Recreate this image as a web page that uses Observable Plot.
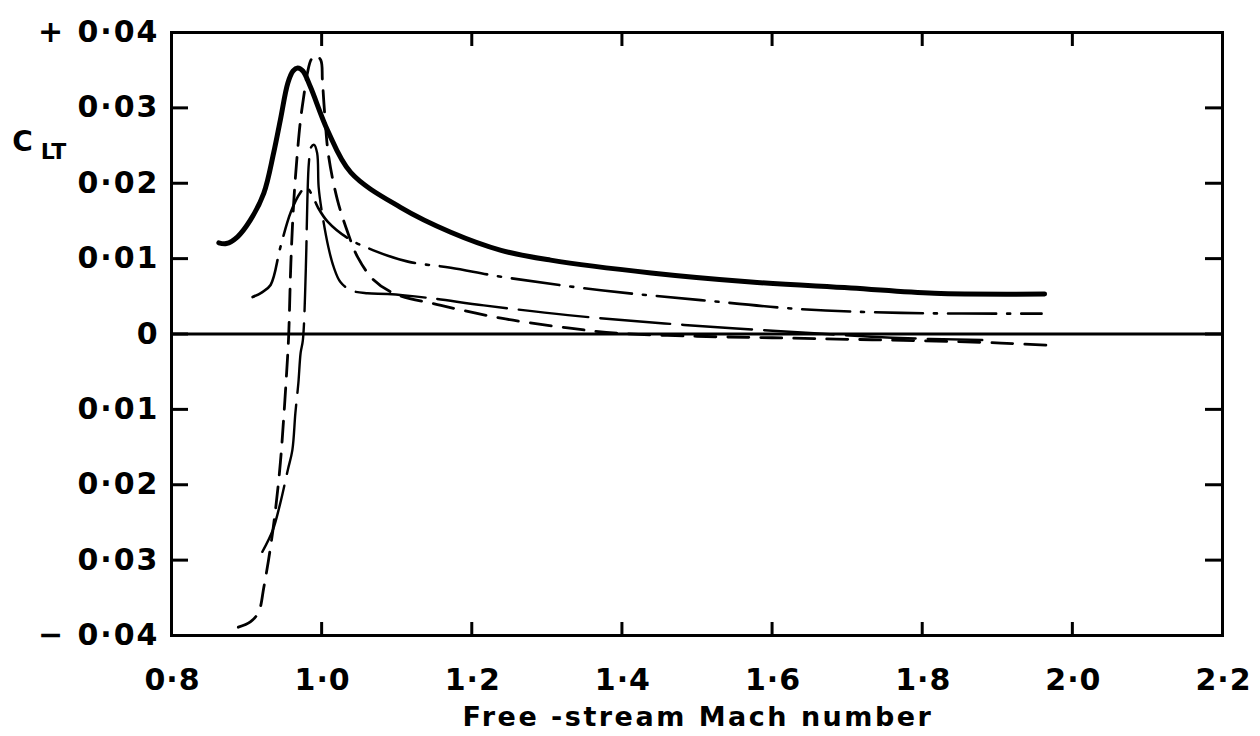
<!DOCTYPE html>
<html>
<head>
<meta charset="utf-8">
<script src="https://cdn.jsdelivr.net/npm/d3@7"></script>
<script src="https://cdn.jsdelivr.net/npm/@observablehq/plot@0.6"></script>
<style>
  html, body { margin: 0; padding: 0; background: #fff; }
  #chart svg { display: block; }
  #chart svg g.ylab text { letter-spacing: 2px; }
  #chart svg g.xlab text { letter-spacing: 1px; }
  #chart svg g.xtitle text { letter-spacing: 2.5px; }
</style>
</head>
<body>
<div id="chart"></div>
<script>
// ---- Axis ticks and labels ----
const xTicks = [0.8, 1.0, 1.2, 1.4, 1.6, 1.8, 2.0, 2.2];
const xTickLabels = ["0·8", "1·0", "1·2", "1·4", "1·6", "1·8", "2·0", "2·2"];
const yTicks = [0.04, 0.03, 0.02, 0.01, 0, -0.01, -0.02, -0.03, -0.04];
const yTickLabels = ["+ 0·04", "0·03", "0·02", "0·01", "0", "0·01", "0·02", "0·03", "− 0·04"];
const xTitle = "Free -stream Mach number";
const yTitleMain = "C";
const yTitleSub = "LT";

// ---- Series (Mach number, C_LT) ----
// A: thick solid
const machA = [0.863, 0.873, 0.888, 0.905, 0.923, 0.936, 0.945, 0.955, 0.962, 0.968, 0.975, 0.985, 1.008, 1.039, 1.105, 1.172, 1.239, 1.305, 1.439, 1.572, 1.705, 1.816, 1.963];
const clA   = [0.0121, 0.0120, 0.0129, 0.0151, 0.0187, 0.0240, 0.0284, 0.0333, 0.0349, 0.0353, 0.0349, 0.0328, 0.0270, 0.0214, 0.0168, 0.0135, 0.0111, 0.0098, 0.0081, 0.0069, 0.0061, 0.0054, 0.0053];

// B: chain (dash-dot)
const machB = [0.908, 0.920, 0.932, 0.945, 0.959, 0.972, 0.979, 0.987, 0.995, 1.008, 1.035, 1.069, 1.115, 1.172, 1.239, 1.372, 1.505, 1.639, 1.772, 1.959];
const clB   = [0.0049, 0.0055, 0.0065, 0.0115, 0.0162, 0.0188, 0.0195, 0.0185, 0.0168, 0.0149, 0.0127, 0.0111, 0.0096, 0.0088, 0.0076, 0.0058, 0.0045, 0.0033, 0.0028, 0.0027];

// C: short dashes
const machC = [0.889, 0.905, 0.916, 0.923, 0.932, 0.939, 0.945, 0.949, 0.953, 0.956, 0.959, 0.963, 0.968, 0.972, 0.976, 0.981, 0.986, 0.992, 0.999, 1.001, 1.004, 1.009, 1.021, 1.035, 1.048, 1.069, 1.096, 1.159, 1.239, 1.328, 1.395, 1.500, 1.600, 1.700, 1.800, 1.905, 1.968];
const clC   = [-0.0389, -0.0382, -0.0369, -0.0336, -0.0282, -0.0229, -0.0171, -0.0118, -0.0057, -0.0004, 0.0094, 0.0178, 0.0244, 0.0285, 0.0314, 0.0346, 0.0364, 0.0370, 0.0363, 0.0337, 0.0293, 0.0238, 0.0178, 0.0134, 0.0102, 0.0072, 0.0054, 0.0038, 0.0021, 0.0008, 0.0001, -0.0003, -0.0005, -0.0007, -0.0009, -0.0012, -0.0015];

// D: long dashes, thin
const machD = [0.921, 0.935, 0.945, 0.955, 0.961, 0.965, 0.969, 0.972, 0.975, 0.979, 0.981, 0.983, 0.986, 0.990, 0.994, 0.996, 1.000, 1.009, 1.016, 1.025, 1.039, 1.061, 1.088, 1.141, 1.216, 1.328, 1.483, 1.656, 1.760, 1.880];
const clD   = [-0.0289, -0.0260, -0.0224, -0.0180, -0.0154, -0.0105, -0.0065, -0.0025, -0.0008, 0.0089, 0.0178, 0.0227, 0.0248, 0.0251, 0.0240, 0.0195, 0.0164, 0.0115, 0.0089, 0.0069, 0.0058, 0.0054, 0.0053, 0.0048, 0.0038, 0.0025, 0.0012, 0.0001, -0.0005, -0.0008];

const toRows = (m, c) => m.map((x, i) => ({mach: x, cl: c[i]}));
const rowsA = toRows(machA, clA);
const rowsB = toRows(machB, clB);
const rowsC = toRows(machC, clC);
const rowsD = toRows(machD, clD);

// ---- Layout ----
const W = 1260, H = 736;
const mL = 171, mR = 38, mT = 32, mB = 101;
const fw = W - mL - mR, fh = H - mT - mB;
const font = "DejaVu Sans, Liberation Sans, sans-serif";

const chart = Plot.plot({
  width: W,
  height: H,
  marginLeft: mL, marginRight: mR, marginTop: mT, marginBottom: mB,
  x: {domain: [0.8, 2.2], axis: null},
  y: {domain: [-0.04, 0.04], axis: null},
  style: {fontFamily: font, color: "#000", background: "#fff", overflow: "visible"},
  marks: [
    Plot.frame({stroke: "#000", strokeWidth: 3}),
    Plot.ruleY([0], {stroke: "#000", strokeWidth: 3}),
    // inward ticks
    Plot.tickY(yTicks, {y: d => d, stroke: "#000", strokeWidth: 3, insetRight: fw - 17}),
    Plot.tickY(yTicks, {y: d => d, stroke: "#000", strokeWidth: 3, insetLeft: fw - 17}),
    Plot.tickX(xTicks, {x: d => d, stroke: "#000", strokeWidth: 3, insetTop: fh - 13}),
    Plot.tickX(xTicks, {x: d => d, stroke: "#000", strokeWidth: 3, insetBottom: fh - 14}),
    // curves
    Plot.line(rowsA, {x: "mach", y: "cl", curve: "catmull-rom", stroke: "#000", strokeWidth: 5, strokeLinecap: "round"}),
    Plot.line(rowsB, {x: "mach", y: "cl", curve: "catmull-rom", stroke: "#000", strokeWidth: 2.6, strokeDasharray: "48,11,3,11"}),
    Plot.line(rowsC, {x: "mach", y: "cl", curve: "catmull-rom", stroke: "#000", strokeWidth: 2.8, strokeDasharray: "21,12"}),
    Plot.line(rowsD, {x: "mach", y: "cl", curve: "catmull-rom", stroke: "#000", strokeWidth: 2.4, strokeDasharray: "70,12"}),
    // y tick labels
    Plot.text(yTicks, {y: d => d, text: (d, i) => yTickLabels[i], frameAnchor: "left", textAnchor: "end", lineAnchor: "middle", dx: -12, fontSize: 30, fontWeight: "bold", fill: "#000", className: "ylab"}),
    // x tick labels
    Plot.text(xTicks, {x: d => d, text: (d, i) => xTickLabels[i], frameAnchor: "bottom", textAnchor: "middle", lineAnchor: "middle", dy: 45, dx: 1, fontSize: 30, fontWeight: "bold", fill: "#000", className: "xlab"}),
    // x title
    Plot.text([xTitle], {text: d => d, frameAnchor: "bottom", textAnchor: "middle", lineAnchor: "middle", dy: 82, dx: 1, fontSize: 27, fontWeight: "bold", fill: "#000", className: "xtitle"}),
    // y title C_LT
    Plot.text([yTitleMain], {text: d => d, frameAnchor: "top-left", textAnchor: "middle", lineAnchor: "middle", dx: -149, dy: 110, fontSize: 28, fontWeight: "bold", fill: "#000"}),
    Plot.text([yTitleSub], {text: d => d, frameAnchor: "top-left", textAnchor: "middle", lineAnchor: "middle", dx: -118, dy: 119, fontSize: 22, fontWeight: "bold", fill: "#000"})
  ]
});

document.getElementById("chart").appendChild(chart);
</script>
</body>
</html>
